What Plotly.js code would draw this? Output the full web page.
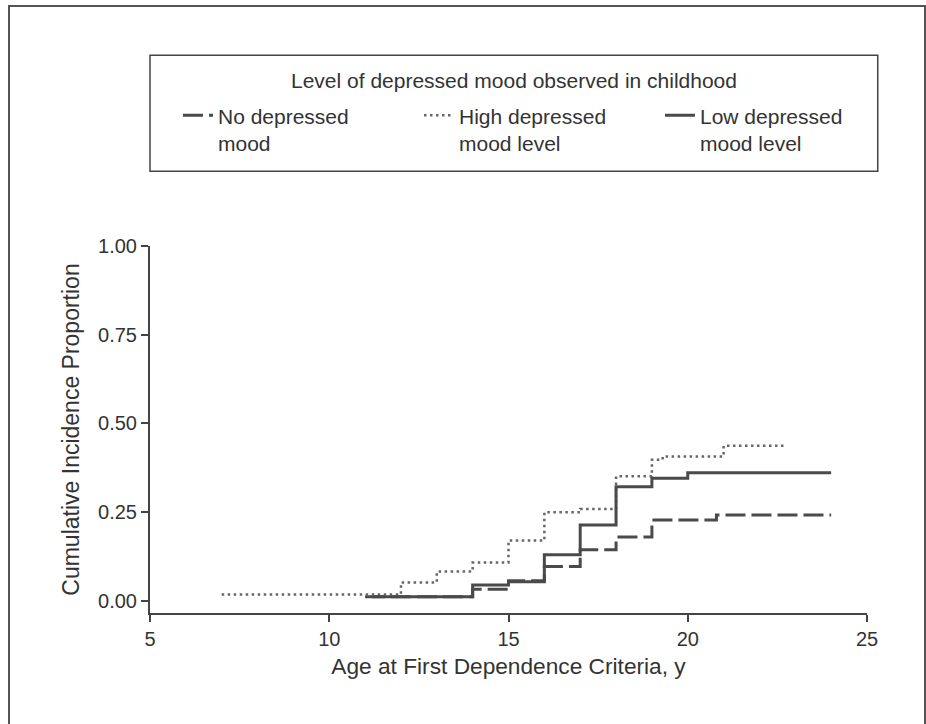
<!DOCTYPE html>
<html>
<head>
<meta charset="utf-8">
<script src="https://cdn.plot.ly/plotly-3.0.1.min.js"></script>
<style>
  html, body { margin: 0; padding: 0; background: #fff; }
  #wrap { position: relative; width: 926px; height: 724px; overflow: hidden; }
  #chart { position: absolute; left: 0; top: 0; width: 926px; height: 724px; }
  #frame { position: absolute; left: 8px; top: 5px; width: 914px; height: 760px; border: 2px solid #555; pointer-events: none; }
</style>
</head>
<body>
<div id="wrap">
  <div id="chart"></div>
  <div id="frame"></div>
</div>
<script>
// Series names (legend text)
const seriesNames = ["No depressed<br>mood", "High depressed<br>mood level", "Low depressed<br>mood level"];
const legendTitle = "Level of depressed mood observed in childhood";

// No depressed mood (dashed) — step function
const noAge = [11.0, 14, 15, 16, 17, 18, 19, 20.8, 24];
const noCIP = [0.012, 0.033, 0.057, 0.097, 0.144, 0.180, 0.228, 0.242, 0.242];

// High depressed mood level (dotted)
const highAge = [7.0, 12, 13, 14, 15, 16, 17, 18, 19, 19.3, 21, 22.75];
const highCIP = [0.018, 0.052, 0.083, 0.108, 0.170, 0.250, 0.259, 0.351, 0.398, 0.407, 0.437, 0.437];

// Low depressed mood level (solid)
const lowAge = [11.2, 14, 15, 16, 17, 18, 19, 20, 24];
const lowCIP = [0.012, 0.045, 0.054, 0.130, 0.214, 0.322, 0.346, 0.361, 0.361];

// Axis ticks
const xTicks = [5, 10, 15, 20, 25];
const yTicks = [0, 0.25, 0.5, 0.75, 1.0];
const yTickLabels = ["0.00", "0.25", "0.50", "0.75", "1.00"];

const FONT = '"Liberation Sans", Arial, Helvetica, sans-serif';

const traces = [
  { x: noAge, y: noCIP, name: seriesNames[0], mode: 'lines',
    line: { shape: 'hv', color: '#4a4a4a', width: 3, dash: '20px,6px' } },
  { x: highAge, y: highCIP, name: seriesNames[1], mode: 'lines',
    line: { shape: 'hv', color: '#666', width: 2.5, dash: '2.5px,3.5px' } },
  { x: lowAge, y: lowCIP, name: seriesNames[2], mode: 'lines',
    line: { shape: 'hv', color: '#4a4a4a', width: 3 } }
];

const layout = {
  width: 926, height: 724,
  margin: { l: 150, r: 59, t: 246, b: 111 },
  paper_bgcolor: '#fff', plot_bgcolor: '#fff',
  font: { family: FONT, size: 21, color: '#333' },
  showlegend: true,
  legend: {
    orientation: 'h',
    x: 1.0474, xanchor: 'right',
    y: 1.411, yanchor: 'top',
    borderwidth: 0,
    bgcolor: 'rgba(0,0,0,0)',
    valign: 'top',
    entrywidth: 196,
    entrywidthmode: 'pixels',
    font: { family: FONT, size: 21, color: '#333' },
    traceorder: 'normal'
  },
  annotations: [
    { text: legendTitle, xref: 'paper', yref: 'paper', x: 0.508, y: 1.452,
      xanchor: 'center', yanchor: 'middle', showarrow: false,
      font: { family: FONT, size: 21, color: '#333' } }
  ],
  shapes: [
    { type: 'rect', xref: 'paper', yref: 'paper', x0: 0, x1: 1.015, y0: 1.204, y1: 1.52,
      line: { color: '#444', width: 1.5 }, fillcolor: 'rgba(0,0,0,0)' }
  ],
  xaxis: {
    range: [5, 25], tickvals: xTicks, ticktext: xTicks.map(String),
    showline: true, linecolor: '#444', linewidth: 2,
    ticks: 'outside', ticklen: 7, tickwidth: 2, tickcolor: '#444',
    showgrid: false, zeroline: false,
    tickfont: { family: FONT, size: 20, color: '#333' },
    title: { text: 'Age at First Dependence Criteria, y', font: { family: FONT, size: 22.7, color: '#333' }, standoff: 9 }
  },
  yaxis: {
    range: [-0.034, 1.0], tickvals: yTicks, ticktext: yTickLabels,
    showline: true, linecolor: '#444', linewidth: 2,
    ticks: 'outside', ticklen: 7, tickwidth: 2, tickcolor: '#444',
    showgrid: false, zeroline: false,
    tickfont: { family: FONT, size: 20, color: '#333' },
    title: { text: 'Cumulative Incidence Proportion', font: { family: FONT, size: 23, color: '#333' }, standoff: 12 }
  }
};

Plotly.newPlot('chart', traces, layout, { staticPlot: true, displayModeBar: false });
</script>
</body>
</html>
